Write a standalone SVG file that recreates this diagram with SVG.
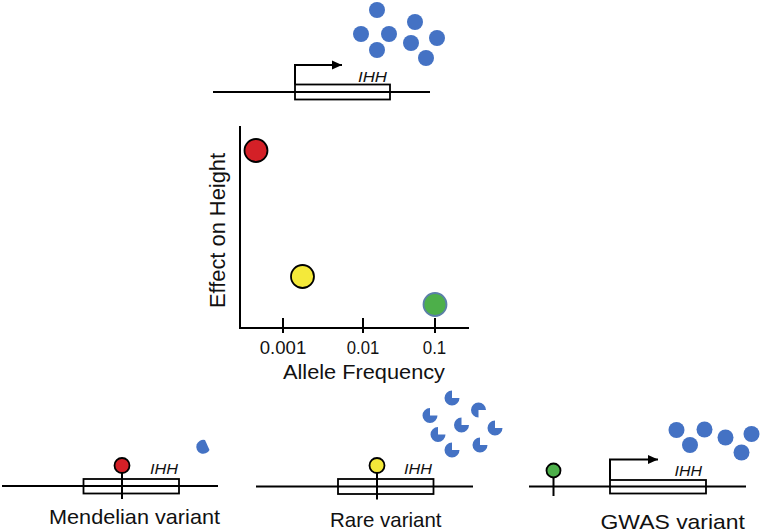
<svg xmlns="http://www.w3.org/2000/svg" width="762" height="531" viewBox="0 0 762 531">
<defs>
<style>
.ln{stroke:#000;stroke-width:2;fill:none}
.bx{stroke:#000;stroke-width:1.8;fill:#fff}
.dot{fill:#4472c4}
.t{font-family:"Liberation Sans",Arial,sans-serif;fill:#111}
.g{font-family:"Liberation Sans",Arial,sans-serif;font-style:italic;font-size:15px;fill:#111}
</style>
<marker id="ah" viewBox="0 0 10 10" refX="10" refY="5" markerWidth="5" markerHeight="5" orient="auto" markerUnits="strokeWidth">
<path d="M0,0.5 L10,5 L0,9.5 Z" fill="#000"/>
</marker>
<path id="pac" d="M0,0 L0,-7.5 A7.5 7.5 0 1 0 7.5,0 Z"/>
</defs>
<rect width="762" height="531" fill="#fff"/>

<g id="top-gene">
<rect class="bx" x="295" y="84.5" width="95" height="15"/>
<line class="ln" x1="213" y1="92" x2="430" y2="92"/>
<polyline class="ln" points="295,84.5 295,65 342,65" marker-end="url(#ah)"/>
<text class="g" x="358" y="81.5" textLength="29" lengthAdjust="spacingAndGlyphs">IHH</text>
</g>
<g id="top-proteins" class="dot">
<circle cx="377" cy="10" r="8"/>
<circle cx="361" cy="34" r="8"/>
<circle cx="389" cy="34" r="8"/>
<circle cx="377" cy="50" r="8"/>
<circle cx="415" cy="22" r="8"/>
<circle cx="411" cy="43" r="8"/>
<circle cx="437" cy="38" r="8"/>
<circle cx="426" cy="58" r="8"/>
</g>

<g id="plot">
<polyline class="ln" points="240,126 240,328 469,328"/>
<line class="ln" x1="283" y1="318" x2="283" y2="333"/>
<line class="ln" x1="363" y1="318" x2="363" y2="333"/>
<line class="ln" x1="435" y1="318" x2="435" y2="333"/>
<text class="t" x="283" y="353.5" font-size="17.5" text-anchor="middle" textLength="46.5" lengthAdjust="spacingAndGlyphs">0.001</text>
<text class="t" x="363" y="353.5" font-size="17.5" text-anchor="middle" textLength="32.5" lengthAdjust="spacingAndGlyphs">0.01</text>
<text class="t" x="434.5" y="353.5" font-size="17.5" text-anchor="middle" textLength="23.5" lengthAdjust="spacingAndGlyphs">0.1</text>
<text class="t" x="283" y="379" font-size="21" textLength="162" lengthAdjust="spacingAndGlyphs">Allele Frequency</text>
<text class="t" transform="translate(225,230.5) rotate(-90)" x="0" y="0" font-size="21.5" text-anchor="middle" textLength="155" lengthAdjust="spacingAndGlyphs">Effect on Height</text>
<circle cx="256" cy="150.5" r="11.5" fill="#d42027" stroke="#000" stroke-width="1.8"/>
<circle cx="302.5" cy="276.5" r="11.5" fill="#f4e93a" stroke="#000" stroke-width="1.8"/>
<circle cx="435" cy="304.5" r="11.5" fill="#4daf4a" stroke="#5b7fa8" stroke-width="1.8"/>
</g>

<g id="mendelian">
<rect class="bx" x="83.5" y="479" width="95.5" height="14.5"/>
<line class="ln" x1="2" y1="486" x2="218" y2="486"/>
<line class="ln" x1="122" y1="472" x2="122" y2="499"/>
<circle cx="122" cy="465.5" r="7.5" fill="#d42027" stroke="#000" stroke-width="1.8"/>
<text class="g" x="150" y="474" textLength="28" lengthAdjust="spacingAndGlyphs">IHH</text>
<path class="dot" d="M205,440 A7 7 0 1 0 209.5,450 Z"/>
<text class="t" x="49" y="524" font-size="21" textLength="171" lengthAdjust="spacingAndGlyphs">Mendelian variant</text>
</g>

<g id="rare">
<rect class="bx" x="338" y="479" width="95.5" height="15"/>
<line class="ln" x1="256" y1="486.5" x2="473" y2="486.5"/>
<line class="ln" x1="377" y1="472" x2="377" y2="499.5"/>
<circle cx="377" cy="465.5" r="7.5" fill="#f4e93a" stroke="#000" stroke-width="1.8"/>
<text class="g" x="404" y="473.5" textLength="28" lengthAdjust="spacingAndGlyphs">IHH</text>
<g class="dot">
<use href="#pac" transform="translate(452,398)"/>
<use href="#pac" transform="translate(430,415.5)"/>
<use href="#pac" transform="translate(478.5,410) rotate(90)"/>
<use href="#pac" transform="translate(461.5,425)"/>
<use href="#pac" transform="translate(495,428)"/>
<use href="#pac" transform="translate(438,434.5)"/>
<use href="#pac" transform="translate(452,450)"/>
<use href="#pac" transform="translate(480,445)"/>
</g>
<text class="t" x="330" y="526.5" font-size="21" textLength="111.5" lengthAdjust="spacingAndGlyphs">Rare variant</text>
</g>

<g id="gwas">
<rect class="bx" x="610" y="480" width="96" height="13.5"/>
<line class="ln" x1="529" y1="486.5" x2="746" y2="486.5"/>
<polyline class="ln" points="610,480 610,459.5 658,459.5" marker-end="url(#ah)"/>
<line class="ln" x1="553.5" y1="477" x2="553.5" y2="496"/>
<circle cx="553.5" cy="470.5" r="7" fill="#4daf4a" stroke="#000" stroke-width="1.8"/>
<text class="g" x="674.5" y="476" textLength="27.5" lengthAdjust="spacingAndGlyphs">IHH</text>
<g class="dot">
<circle cx="676.5" cy="430" r="8"/>
<circle cx="704.5" cy="429.5" r="8"/>
<circle cx="690" cy="445" r="8"/>
<circle cx="725.5" cy="437.5" r="8"/>
<circle cx="751.5" cy="434" r="8"/>
<circle cx="741.5" cy="452.5" r="8"/>
</g>
<text class="t" x="600.5" y="528.5" font-size="21" textLength="144.5" lengthAdjust="spacingAndGlyphs">GWAS variant</text>
</g>
</svg>
